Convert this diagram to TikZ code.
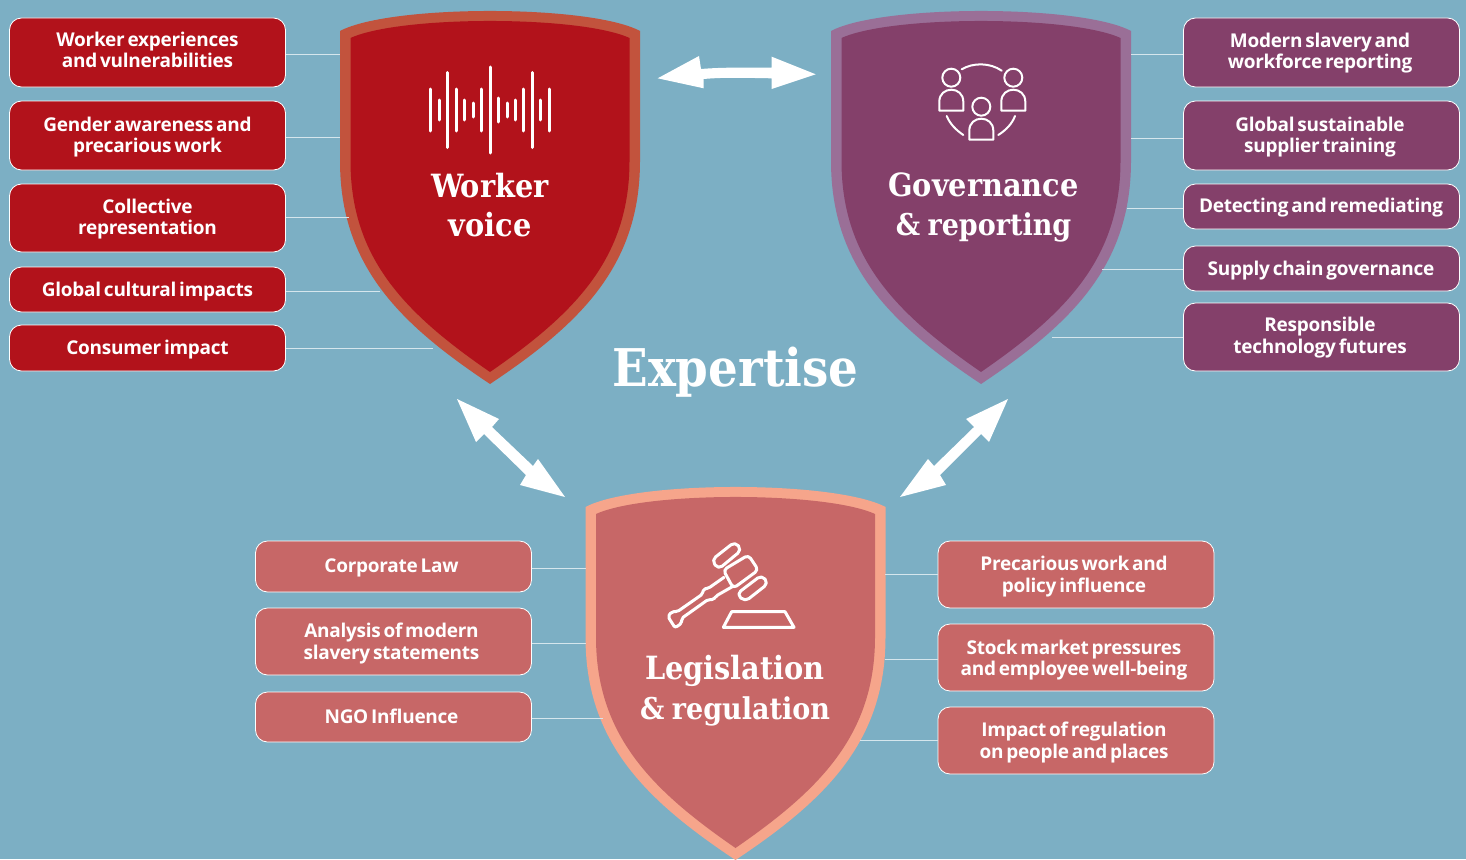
\documentclass[tikz,border=0pt]{standalone}
\usepackage{fontspec}
\setmainfont[LetterSpace=-1.4,WordSpace=0.6]{Open Sans}
\newfontfamily\slab{DejaVu Serif Condensed}
\definecolor{bgblue}{HTML}{7CAFC4}
\definecolor{wred}{HTML}{B2121B}
\definecolor{wredb}{HTML}{C2533D}
\definecolor{gpur}{HTML}{84406A}
\definecolor{gpurb}{HTML}{9A6F97}
\definecolor{lrose}{HTML}{C76767}
\definecolor{lroseb}{HTML}{F6A58B}
\definecolor{linkc}{HTML}{D5E6ED}
\tikzset{
 topic/.style={draw=white,line width=0.8pt,rounded corners=12pt,minimum width=276pt,inner sep=0pt,align=center,text=white,font=\fontsize{19}{21.5}\selectfont\bfseries},
 link/.style={linkc,line width=1pt},
 title/.style={text=white,align=center,font=\slab\bfseries\fontsize{32}{39.5}\selectfont,inner sep=0pt},
 icon/.style={white,line width=2.4pt,line cap=round,line join=round},
 wave/.style={white,line width=3pt,line cap=round}
}
\newcommand{\shield}[4]{%
 \begin{scope}[shift={(#1,#2)}]
 \fill[#3] (-150,20) .. controls (-100,-6.7) and (100,-6.7) .. (150,20) -- (150,150) .. controls (150,255) and (90,313) .. (0,373) .. controls (-90,313) and (-150,255) .. (-150,150) -- cycle;
 \fill[#4] (-139.5,27) .. controls (-90,4.3) and (90,4.3) .. (139.5,27) -- (139.5,150) .. controls (139.5,248) and (84,303) .. (0,361) .. controls (-84,303) and (-139.5,248) .. (-139.5,150) -- cycle;
 \end{scope}}
% #1 horizontal kern (twice the shift), #2 raise, #3 lines
\newcommand{\tlab}[3]{\raisebox{#2}[\height][\depth]{\kern#1\begin{tabular}{@{}c@{}}#3\end{tabular}}}
\newcommand{\amp}[1]{{\fontsize{30}{39.5}\selectfont\&\hspace{-2pt} #1}}
\begin{document}
\begin{tikzpicture}[x=1pt,y=-1pt]
\useasboundingbox (0,0) rectangle (1466,859);
\fill[bgblue] (0,0) rectangle (1466,859);
% connector end points
\coordinate (wa) at (340,55); \coordinate (wb) at (340,137); \coordinate (wc) at (349,217); \coordinate (wd) at (380,291); \coordinate (we) at (433,348);
\coordinate (ga) at (1131,55); \coordinate (gb) at (1131,138); \coordinate (gc) at (1127,208); \coordinate (gd) at (1102,269); \coordinate (ge) at (1052,337);
\coordinate (la) at (586,568); \coordinate (lb) at (586,643); \coordinate (lc) at (603,718);
\coordinate (ra) at (885,574); \coordinate (rb) at (885,659); \coordinate (rc) at (860,740);
% shields
\shield{490}{11}{wredb}{wred}
\shield{981}{11}{gpurb}{gpur}
\shield{735.5}{487}{lroseb}{lrose}
% topic boxes
\node[topic,fill=wred,minimum height=69pt] (w1) at (147.5,52.5) {\tlab{0pt}{0pt}{Worker experiences\\and vulnerabilities}};
\node[topic,fill=wred,minimum height=69pt] (w2) at (147.5,135.5) {\tlab{0pt}{-2pt}{Gender awareness and\\precarious work}};
\node[topic,fill=wred,minimum height=68pt] (w3) at (147.5,218) {\tlab{0pt}{-1.5pt}{Collective\\representation}};
\node[topic,fill=wred,minimum height=45pt] (w4) at (147.5,289.5) {\tlab{0pt}{-3pt}{Global cultural impacts}};
\node[topic,fill=wred,minimum height=46pt] (w5) at (147.5,348) {\tlab{0pt}{-2pt}{Consumer impact}};
\node[topic,fill=gpur,minimum height=69pt] (g1) at (1321.5,52.5) {\tlab{-3pt}{-1pt}{Modern slavery and\\workforce reporting}};
\node[topic,fill=gpur,minimum height=69pt] (g2) at (1321.5,135.5) {\tlab{-3pt}{-2pt}{Global sustainable\\supplier training}};
\node[topic,fill=gpur,minimum height=45pt] (g3) at (1321.5,206.5) {\tlab{-1pt}{-2pt}{Detecting and remediating}};
\node[topic,fill=gpur,minimum height=45pt] (g4) at (1321.5,268.5) {\tlab{-1pt}{-3pt}{Supply chain governance}};
\node[topic,fill=gpur,minimum height=68pt] (g5) at (1321.5,337) {\tlab{-3pt}{-1pt}{Responsible\\technology futures}};
\node[topic,fill=lrose,minimum height=51pt] (l1) at (393.5,566.5) {\tlab{-4pt}{-2pt}{Corporate Law}};
\node[topic,fill=lrose,minimum height=67pt] (l2) at (393.5,641.5) {\tlab{-4pt}{-2.5pt}{Analysis of modern\\slavery statements}};
\node[topic,fill=lrose,minimum height=50pt] (l3) at (393.5,717) {\tlab{-4pt}{-2pt}{NGO Influence}};
\node[topic,fill=lrose,minimum height=67pt] (r1) at (1076,574.5) {\tlab{-4pt}{-2.5pt}{Precarious work and\\policy influence}};
\node[topic,fill=lrose,minimum height=67pt] (r2) at (1076,657.5) {\tlab{-4pt}{-3pt}{Stock market pressures\\and employee well-being}};
\node[topic,fill=lrose,minimum height=67pt] (r3) at (1076,740.5) {\tlab{-4pt}{-2.5pt}{Impact of regulation\\on people and places}};
% connectors
\foreach \b/\c in {w1/wa,w2/wb,w3/wc,w4/wd,w5/we,l1/la,l2/lb,l3/lc}
 \draw[link] (\b.east |- \c) -- (\c);
\foreach \b/\c in {g1/ga,g2/gb,g3/gc,g4/gd,g5/ge,r1/ra,r2/rb,r3/rc}
 \draw[link] (\b.west |- \c) -- (\c);
% titles
\node[title] (tw) at (490,205) {Worker\\voice};
\node[title] (tg) at (983.5,207.5) {Governance\\\amp{reporting}};
\node[title] (tl) at (735,690.5) {Legislation\\\amp{regulation}};
\node[text=white,inner sep=0pt,font=\slab\bfseries\fontsize{52}{60}\selectfont] (tx) at (735.5,372) {Expertise};
% wave icon
\foreach \x/\h in {430.7/21,439.3/10,447.7/37.5,456/21,464.7/10,473/7,481.3/21,490/43,498.3/12,507/7,515.3/10,523.7/21,532/37.5,540.7/10,549/21}
 \draw[wave] (\x,110-\h) -- (\x,110+\h);
% people icon
\begin{scope}[icon,line width=2pt]
 \foreach \cx/\cy in {951.3/77.7,1013.3/77.7,981.3/106.7}{
  \draw (\cx,\cy) circle[radius=9];
  \draw (\cx-12,\cy+33) -- (\cx-12,\cy+24) .. controls (\cx-12,\cy+8) and (\cx+12,\cy+8) .. (\cx+12,\cy+24) -- (\cx+12,\cy+33) -- cycle;
 }
 \draw (961.7,69.3) .. controls (973,62.5) and (990,62.5) .. (1001.7,70.7);
 \draw (946.7,116) .. controls (950,124) and (956,130) .. (963.3,135);
 \draw (1015,116) .. controls (1012,124) and (1006,130) .. (998.3,135);
\end{scope}
% gavel icon
\begin{scope}[shift={(640,520)},xscale=1/3,yscale=1/3,icon,line width=3pt]
 \draw[rounded corners=4pt] (250,150) -- (325,105) -- (355,150) -- (280,205) -- cycle;
 \draw[rounded corners=5pt] (215,120) -- (285,65) -- (305,90) -- (235,148) -- cycle;
 \draw[rounded corners=5pt] (290,222) -- (365,165) -- (385,190) -- (315,245) -- cycle;
 \draw[rounded corners=2pt] (252,172) -- (205,205) -- (190,207) -- (188,222) -- (112,275) -- (95,275) -- (84,290) -- (105,323) -- (125,310) -- (125,295) -- (205,238) -- (220,240) -- (228,228) -- (277,200);
 \draw (275,275) -- (435,275) -- (462,322) -- (250,322) -- cycle;
\end{scope}
% arrows
\fill[white] (457,399) -- (499,419) -- (492,427) -- (533,466) -- (538,459) -- (565,497) -- (520,485) -- (526,475) -- (484,434) -- (476,442) -- cycle;
\fill[white] (1008,399) -- (966,419) -- (974,427) -- (934,466) -- (928,459) -- (900,497) -- (946,485) -- (940,475) -- (981,434) -- (989,442) -- cycle;
\fill[white] (657.7,78.3) -- (699,56) -- (701,69) .. controls (725,67) and (750,67.7) .. (771.7,67.7) -- (771.7,56.7) -- (815.7,74.3) -- (771.7,89) -- (771.7,78.3) .. controls (750,78) and (725,77) .. (703.7,79) -- (703.7,88.3) -- cycle;
\end{tikzpicture}
\end{document}
